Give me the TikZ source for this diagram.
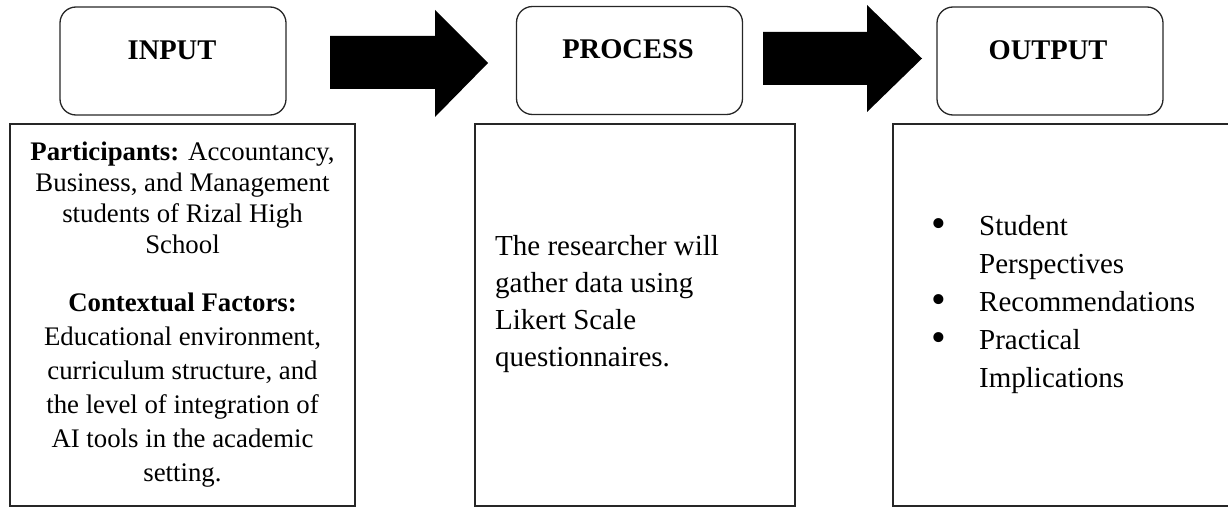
\documentclass[tikz,border=0pt]{standalone}
\usepackage{fontspec}
\setmainfont{Liberation Serif}
\newcommand{\bigbul}{\raisebox{-1.5pt}{\scalebox{1.45}{\textbullet}}}
\begin{document}
\begin{tikzpicture}[x=1pt,y=-1pt,
  titlebox/.style={draw=black!85, line width=1.3pt, rounded corners=16pt, minimum width=226pt, minimum height=108pt, inner sep=0pt},
  contentbox/.style={draw=black!85, line width=1.5pt, inner sep=0pt},
  titletext/.style={font=\fontsize{28.5}{34}\selectfont\bfseries, inner sep=0pt, anchor=base},
  bodyA/.style={font=\fontsize{26.8}{31}\selectfont, align=center, inner sep=0pt, anchor=north},
  bodyAA/.style={font=\fontsize{26.8}{34}\selectfont, align=center, inner sep=0pt, anchor=north},
  bodyB/.style={font=\fontsize{29}{37}\selectfont, align=left, inner sep=0pt, anchor=north west},
  bodyC/.style={font=\fontsize{29}{38}\selectfont, inner sep=0pt, anchor=north west},
  bigarrow/.style={fill=black}]
\useasboundingbox (0,0) rectangle (1228,508);
\clip (0,0) rectangle (1228,508);

% title boxes
\node[titlebox] (inbox) at (173,61) {};
\node[titlebox] (procbox) at (629.5,60.5) {};
\node[titlebox] (outbox) at (1050,61) {};
\node[titletext] (intitle) at (172,59.5) {INPUT};
\node[titletext] (proctitle) at (628,58.5) {PROCESS};
\node[titletext] (outtitle) at (1048,59.5) {OUTPUT};

% content boxes
\node[contentbox, minimum width=345pt, minimum height=382pt] (inrect) at (182.5,315) {};
\node[contentbox, minimum width=320pt, minimum height=382pt] (procrect) at (635,315) {};
\node[contentbox, minimum width=420pt, minimum height=382pt] (outrect) at (1103,315) {};

% block arrows
\coordinate (a1s) at (330,62.5);
\coordinate (a2s) at (763,58.5);
\fill[bigarrow] (a1s) ++(0,-26.5) -- ++(105,0) -- ++(0,-26) -- (488,63) -- (435,117) -- (435,89) -- (330,89) -- cycle;
\fill[bigarrow] (a2s) ++(0,-26.5) -- ++(104,0) -- ++(0,-27) -- (922,58.5) -- (867,112) -- (867,85) -- (763,85) -- cycle;

% input texts
\node[bodyA] (inpart) at (182.5,141.5) {\textbf{Participants:} Accountancy,\\Business, and Management\\students of Rizal High\\School};
\node[bodyAA] (inctx) at (182.5,292.5) {\textbf{Contextual Factors:}\\Educational environment,\\curriculum structure, and\\the level of integration of\\AI tools in the academic\\setting.};

% process text
\node[bodyB] (proctext) at (495,235.5) {The researcher will\\gather data using\\Likert Scale\\questionnaires.};

% output list
\node[bodyC] (outlist) at (931,209) {%
\begin{tabular}{@{}p{48pt}@{}l@{}}
\bigbul & Student\\
 & Perspectives\\
\bigbul & Recommendations\\
\bigbul & Practical\\
 & Implications
\end{tabular}};
\end{tikzpicture}
\end{document}
